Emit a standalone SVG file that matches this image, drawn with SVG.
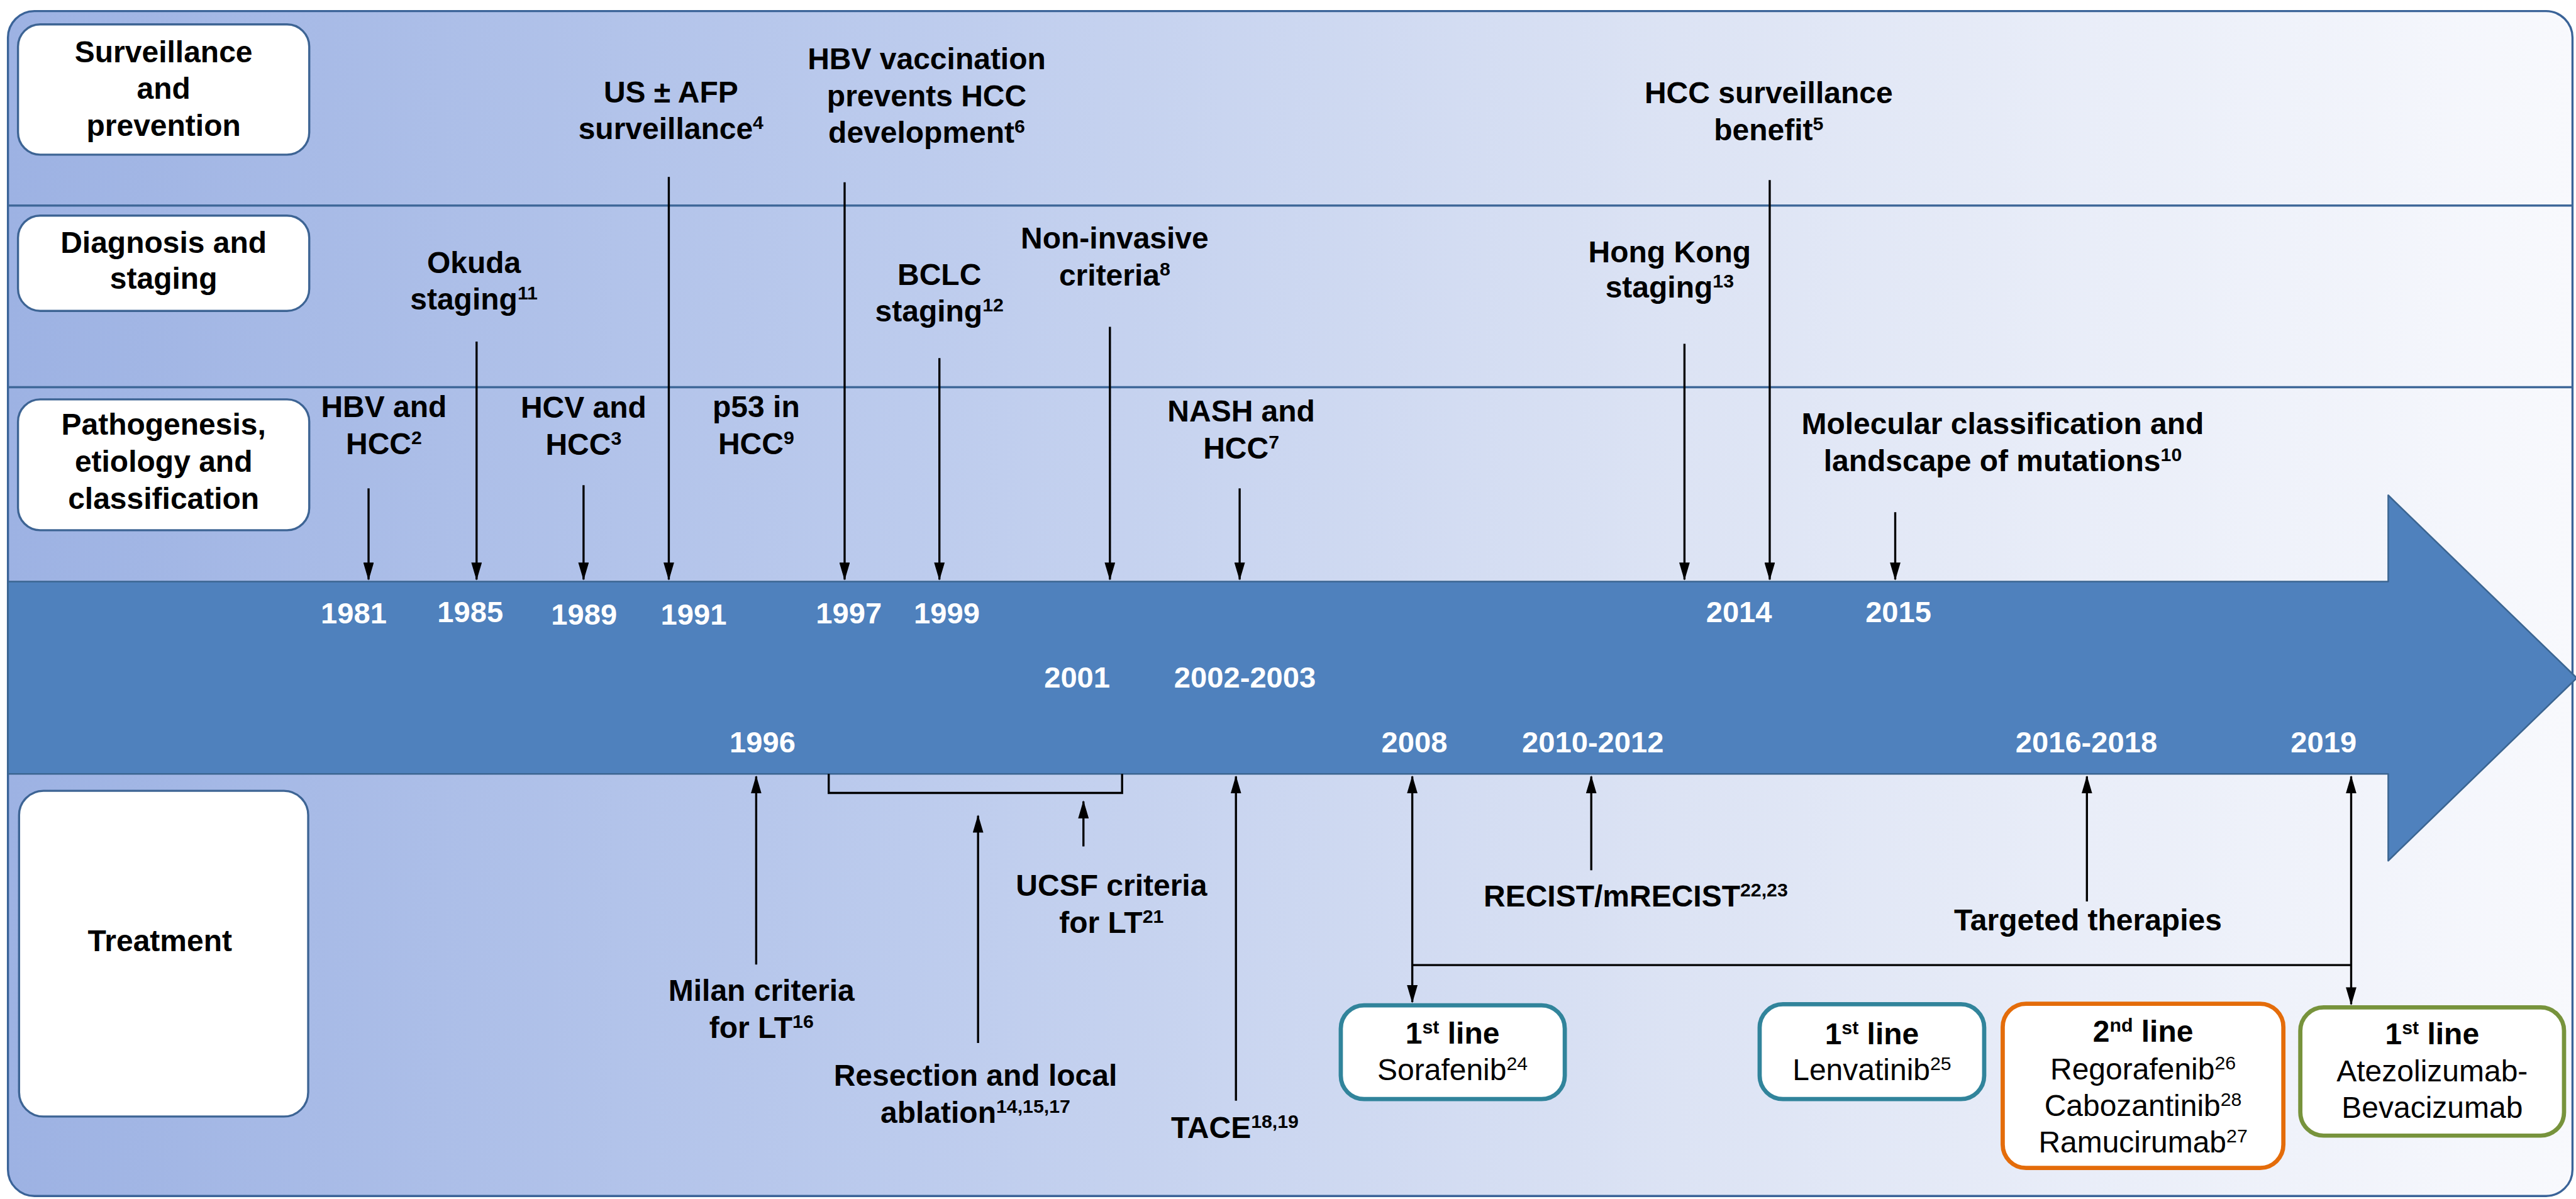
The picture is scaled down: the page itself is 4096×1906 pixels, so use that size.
<svg xmlns="http://www.w3.org/2000/svg" width="4096" height="1906" viewBox="0 0 4096 1906">
<defs>
<linearGradient id="bg" x1="0" y1="0" x2="1" y2="0">
<stop offset="0" stop-color="#9db2e3"/>
<stop offset="0.35" stop-color="#bccbed"/>
<stop offset="0.65" stop-color="#dce3f4"/>
<stop offset="1" stop-color="#f8f9fd"/>
</linearGradient>
<marker id="ah" viewBox="0 0 34 20" markerWidth="34" markerHeight="20" refX="32" refY="10" orient="auto-start-reverse" markerUnits="userSpaceOnUse"><path d="M0,0 L34,10 L0,20 z" fill="#000"/></marker>
</defs>
<style>
.lbl{fill:#fff;stroke:#3d6494;stroke-width:4}
.t{font-family:"Liberation Sans",Arial,sans-serif;font-weight:bold;font-size:57px;text-anchor:middle;fill:#000}
.r{font-weight:normal}
.yr{font-family:"Liberation Sans",Arial,sans-serif;font-weight:bold;font-size:56px;fill:#fff;text-anchor:middle}
.s{font-size:36px}
.ln{stroke:#000;stroke-width:4;fill:none}
.ar{stroke:#000;stroke-width:4;fill:none;marker-end:url(#ah)}
.dar{stroke:#000;stroke-width:4;fill:none;marker-start:url(#ah);marker-end:url(#ah)}
.sep{stroke:#3f6899;stroke-width:4}
.bx{fill:#fff;stroke-width:8}
</style>
<rect width="4096" height="1906" fill="#fff"/>
<g transform="scale(0.842)">
<g id="background">
<rect x="15" y="21" width="4843" height="2237" rx="50" fill="url(#bg)" stroke="#3a6398" stroke-width="4"/>
<line class="sep" x1="15" y1="388" x2="4858" y2="388"/>
<line class="sep" x1="15" y1="731" x2="4858" y2="731"/>
</g>
<g id="timeline-arrow">
<path d="M15,1098 L4510,1098 L4510,935 L4866,1280 L4510,1625 L4510,1461 L15,1461 Z" fill="#4f81bd" stroke="#3b6591" stroke-width="3" stroke-linejoin="round"/>
</g>
<g id="years">
<text class="yr" x="668" y="1177">1981</text>
<text class="yr" x="888" y="1175">1985</text>
<text class="yr" x="1103" y="1179">1989</text>
<text class="yr" x="1310" y="1179">1991</text>
<text class="yr" x="1603" y="1177">1997</text>
<text class="yr" x="1788" y="1177">1999</text>
<text class="yr" x="3284" y="1175">2014</text>
<text class="yr" x="3585" y="1175">2015</text>
<text class="yr" x="2034" y="1298">2001</text>
<text class="yr" x="2351" y="1298">2002-2003</text>
<text class="yr" x="1440" y="1420">1996</text>
<text class="yr" x="2671" y="1420">2008</text>
<text class="yr" x="3008" y="1420">2010-2012</text>
<text class="yr" x="3940" y="1420">2016-2018</text>
<text class="yr" x="4388" y="1420">2019</text>
</g>
<g id="row-surveillance">
<rect class="lbl" x="34" y="46" width="550" height="246" rx="42"/>
<text class="t" x="309" y="117">Surveillance</text>
<text class="t" x="309" y="187">and</text>
<text class="t" x="309" y="256">prevention</text>
</g>
<g id="row-diagnosis">
<rect class="lbl" x="34" y="407" width="550" height="180" rx="42"/>
<text class="t" x="309" y="477">Diagnosis and</text>
<text class="t" x="309" y="545">staging</text>
</g>
<g id="row-pathogenesis">
<rect class="lbl" x="34" y="754" width="550" height="247" rx="42"/>
<text class="t" x="309" y="821">Pathogenesis,</text>
<text class="t" x="309" y="891">etiology and</text>
<text class="t" x="309" y="961">classification</text>
</g>
<g id="row-treatment">
<rect class="lbl" x="36" y="1493" width="546" height="615" rx="46"/>
<text class="t" x="302" y="1796">Treatment</text>
</g>
<g id="ev-hbv-hcc"><text class="t" x="725" y="788">HBV and</text><text class="t" x="725" y="858">HCC<tspan class="s" dy="-19">2</tspan></text></g>
<g id="ev-okuda"><text class="t" x="895" y="516">Okuda</text><text class="t" x="895" y="584">staging<tspan class="s" dy="-19">11</tspan></text></g>
<g id="ev-hcv-hcc"><text class="t" x="1102" y="789">HCV and</text><text class="t" x="1102" y="859">HCC<tspan class="s" dy="-19">3</tspan></text></g>
<g id="ev-p53"><text class="t" x="1428" y="787">p53 in</text><text class="t" x="1428" y="857">HCC<tspan class="s" dy="-19">9</tspan></text></g>
<g id="ev-us-afp"><text class="t" x="1267" y="193">US ± AFP</text><text class="t" x="1267" y="263">surveillance<tspan class="s" dy="-19">4</tspan></text></g>
<g id="ev-hbv-vacc"><text class="t" x="1750" y="131">HBV vaccination</text><text class="t" x="1750" y="201">prevents HCC</text><text class="t" x="1750" y="270">development<tspan class="s" dy="-19">6</tspan></text></g>
<g id="ev-bclc"><text class="t" x="1774" y="538">BCLC</text><text class="t" x="1774" y="607">staging<tspan class="s" dy="-19">12</tspan></text></g>
<g id="ev-noninvasive"><text class="t" x="2105" y="469">Non-invasive</text><text class="t" x="2105" y="539">criteria<tspan class="s" dy="-19">8</tspan></text></g>
<g id="ev-nash"><text class="t" x="2344" y="796">NASH and</text><text class="t" x="2344" y="866">HCC<tspan class="s" dy="-19">7</tspan></text></g>
<g id="ev-hongkong"><text class="t" x="3153" y="495">Hong Kong</text><text class="t" x="3153" y="562">staging<tspan class="s" dy="-19">13</tspan></text></g>
<g id="ev-hcc-surv"><text class="t" x="3340" y="195">HCC surveillance</text><text class="t" x="3340" y="265">benefit<tspan class="s" dy="-19">5</tspan></text></g>
<g id="ev-molecular"><text class="t" x="3782" y="819">Molecular classification and</text><text class="t" x="3782" y="889">landscape of mutations<tspan class="s" dy="-19">10</tspan></text></g>
<g id="ev-milan"><text class="t" x="1438" y="1890">Milan criteria</text><text class="t" x="1438" y="1960">for LT<tspan class="s" dy="-19">16</tspan></text></g>
<g id="ev-resection"><text class="t" x="1842" y="2050">Resection and local</text><text class="t" x="1842" y="2120">ablation<tspan class="s" dy="-19">14,15,17</tspan></text></g>
<g id="ev-ucsf"><text class="t" x="2099" y="1691">UCSF criteria</text><text class="t" x="2099" y="1761">for LT<tspan class="s" dy="-19">21</tspan></text></g>
<g id="ev-tace"><text class="t" x="2332" y="2148">TACE<tspan class="s" dy="-19">18,19</tspan></text></g>
<g id="ev-recist"><text class="t" x="3089" y="1711">RECIST/mRECIST<tspan class="s" dy="-19">22,23</tspan></text></g>
<g id="ev-targeted"><text class="t" x="3943" y="1757">Targeted therapies</text></g>
<g id="box-sorafenib">
<rect class="bx" x="2532" y="1898" width="423" height="177" rx="44" stroke="#31849b"/>
<text class="t" x="2743" y="1970">1<tspan class="s" dy="-19">st</tspan><tspan dy="19"> line</tspan></text>
<text class="t r" x="2743" y="2039">Sorafenib<tspan class="s" dy="-19">24</tspan></text>
</g>
<g id="box-lenvatinib">
<rect class="bx" x="3323" y="1896" width="424" height="179" rx="44" stroke="#31849b"/>
<text class="t" x="3535" y="1971">1<tspan class="s" dy="-19">st</tspan><tspan dy="19"> line</tspan></text>
<text class="t r" x="3535" y="2039">Lenvatinib<tspan class="s" dy="-19">25</tspan></text>
</g>
<g id="box-second-line">
<rect class="bx" x="3782" y="1895" width="530" height="310" rx="44" stroke="#e46c0a"/>
<text class="t" x="4047" y="1967">2<tspan class="s" dy="-19">nd</tspan><tspan dy="19"> line</tspan></text>
<text class="t r" x="4047" y="2038">Regorafenib<tspan class="s" dy="-19">26</tspan></text>
<text class="t r" x="4047" y="2107">Cabozantinib<tspan class="s" dy="-19">28</tspan></text>
<text class="t r" x="4047" y="2176">Ramucirumab<tspan class="s" dy="-19">27</tspan></text>
</g>
<g id="box-atezo">
<rect class="bx" x="4344" y="1902" width="498" height="242" rx="44" stroke="#77933c"/>
<text class="t" x="4593" y="1972">1<tspan class="s" dy="-19">st</tspan><tspan dy="19"> line</tspan></text>
<text class="t r" x="4593" y="2042">Atezolizumab-</text>
<text class="t r" x="4593" y="2110">Bevacizumab</text>
</g>
<g id="connectors">
<line class="ar" x1="696" y1="922" x2="696" y2="1094"/>
<line class="ar" x1="900" y1="645" x2="900" y2="1094"/>
<line class="ar" x1="1102" y1="916" x2="1102" y2="1094"/>
<line class="ar" x1="1263" y1="334" x2="1263" y2="1094"/>
<line class="ar" x1="1595" y1="344" x2="1595" y2="1094"/>
<line class="ar" x1="1774" y1="676" x2="1774" y2="1094"/>
<line class="ar" x1="2096" y1="617" x2="2096" y2="1094"/>
<line class="ar" x1="2341" y1="922" x2="2341" y2="1094"/>
<line class="ar" x1="3181" y1="649" x2="3181" y2="1094"/>
<line class="ar" x1="3342" y1="340" x2="3342" y2="1094"/>
<line class="ar" x1="3579" y1="967" x2="3579" y2="1094"/>
<line class="ar" x1="1428" y1="1821" x2="1428" y2="1466"/>
<polyline class="ln" points="1565,1461 1565,1497 2119,1497 2119,1461"/>
<line class="ar" x1="1847" y1="1969" x2="1847" y2="1540"/>
<line class="ar" x1="2046" y1="1598" x2="2046" y2="1513"/>
<line class="ar" x1="2334" y1="2078" x2="2334" y2="1466"/>
<line class="ar" x1="3005" y1="1643" x2="3005" y2="1466"/>
<line class="ar" x1="3941" y1="1702" x2="3941" y2="1466"/>
<line class="dar" x1="2667" y1="1466" x2="2667" y2="1892"/>
<line class="dar" x1="4440" y1="1466" x2="4440" y2="1896"/>
<line class="ln" x1="2667" y1="1822" x2="4440" y2="1822"/>
</g>
</g>
</svg>
